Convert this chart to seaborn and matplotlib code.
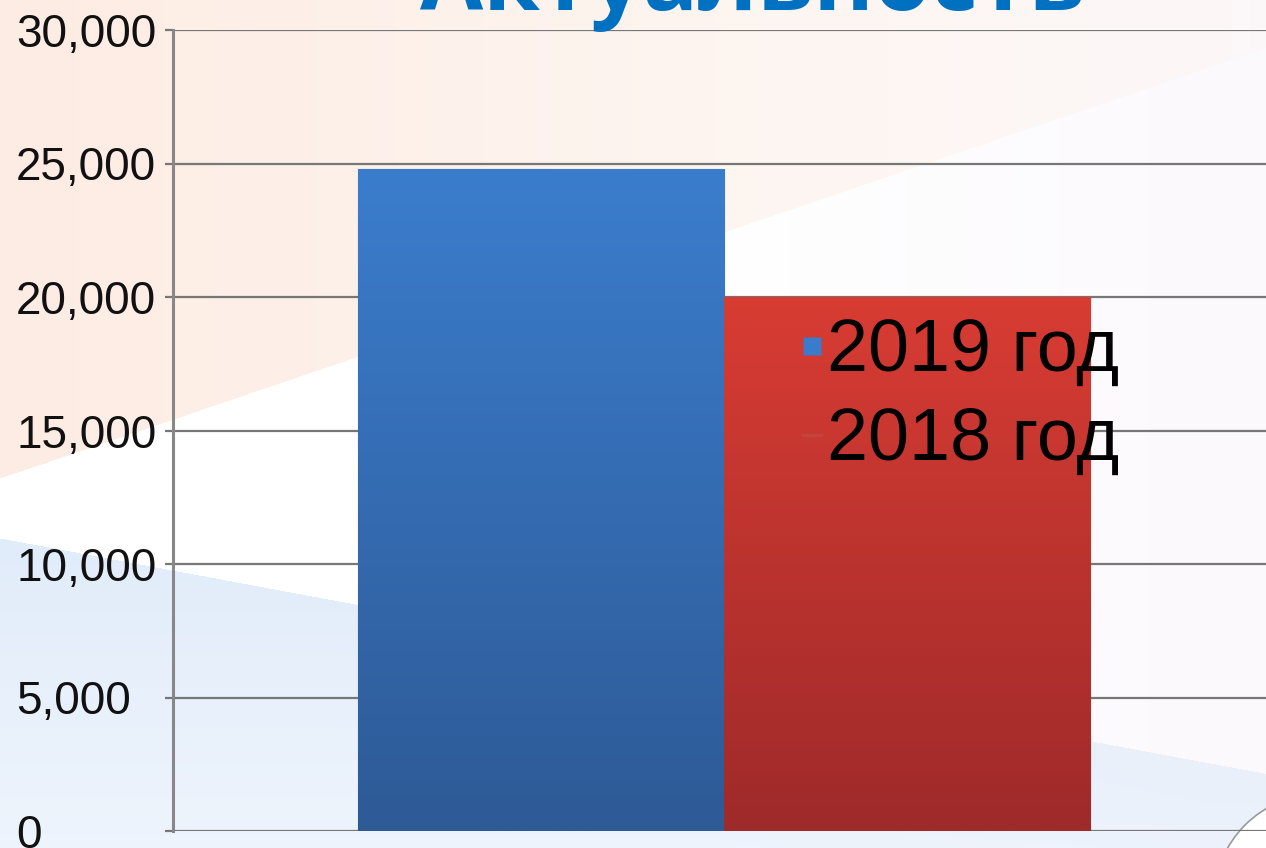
import numpy as np
import pandas as pd
import matplotlib
matplotlib.use("Agg")
import matplotlib.pyplot as plt
import seaborn as sns
from matplotlib.lines import Line2D
from matplotlib.patches import Circle

# chart data
years = ['2019 год', '2018 год']
values = [24800, 20000]
y_ticks = [0, 5000, 10000, 15000, 20000, 25000, 30000]
title = 'Актуальность'

bar_colors = {'2019 год': '#3A78C8', '2018 год': '#CC3A33'}
grad_top = {'2019 год': (59, 125, 205), '2018 год': (216, 60, 51)}
grad_bottom = {'2019 год': (46, 90, 150), '2018 год': (158, 42, 42)}

W, H = 1266, 848
fig = plt.figure(figsize=(W / 100, H / 100), dpi=100)

# slide background: peach band top-left, white band, pale blue band bottom
bg = fig.add_axes([0, 0, 1, 1], zorder=-10)
yy, xx = np.mgrid[0:H, 0:W].astype(float)
img = np.ones((H, W, 3))
peach = np.array([253, 236, 227]) / 255
blue = np.array([225, 236, 250]) / 255
lav = np.array([251, 248, 252]) / 255
t_l = np.clip((xx - 700) / 500, 0, 1)[..., None] * 0.8
img = img * (1 - t_l) + lav * t_l
top_mask = yy < (478 - 0.34 * xx)
fade = np.clip(1 - xx / 1500, 0.12, 1)[..., None]
img = np.where(top_mask[..., None], img * (1 - fade) + peach * fade, img)
bot_mask = yy > (538 + 0.186 * xx)
bfade = np.clip(1 - (yy - 540) / 700, 0.55, 1)[..., None]
img = np.where(bot_mask[..., None], img * (1 - bfade) + blue * bfade, img)
bg.imshow(img, extent=[0, W, H, 0], aspect='auto')
bg.add_patch(Circle((1320, 900), 106, facecolor='white', edgecolor='#9a9a9a', lw=1.2))
bg.set_xlim(0, W)
bg.set_ylim(H, 0)
bg.axis('off')

df = pd.DataFrame({'group': [''] * len(years), 'Год': years, 'value': values})

ax = fig.add_axes([173 / W, (H - 831) / H, 1 - 173 / W, 801 / H])
ax.patch.set_alpha(0)
sns.barplot(data=df, x='group', y='value', hue='Год', hue_order=years,
            palette=bar_colors, width=0.67, saturation=1, legend=False, ax=ax)

# vertical gradient fill on each bar
for bar, yr in zip(ax.patches, years):
    x0, w, h = bar.get_x(), bar.get_width(), bar.get_height()
    top = np.array(grad_top[yr]) / 255
    bot = np.array(grad_bottom[yr]) / 255
    t = np.linspace(0, 1, 256)[:, None, None]
    g = top * (1 - t) + bot * t
    im = ax.imshow(g, extent=[x0, x0 + w, 0, h], aspect='auto', origin='upper', zorder=2)
    im.set_clip_path(bar)
    bar.set_edgecolor('#7a2a2a' if yr == '2018 год' else '#2e5a96')
    bar.set_linewidth(0.8)

ax.set_xlim(-0.504, 0.496)
ax.set_ylim(0, 30000)
ax.set_yticks(y_ticks)
ax.set_yticklabels([f'{v:,}' for v in y_ticks])
ax.set_xticks([])
ax.set_xlabel('')
ax.set_ylabel('')
ax.grid(axis='y', color='#777777', lw=1.6)
ax.set_axisbelow(True)
for s in ['top', 'right', 'bottom']:
    ax.spines[s].set_visible(False)
ax.spines['left'].set_color('#888888')
ax.spines['left'].set_linewidth(2.2)
ax.tick_params(axis='y', length=6, width=1.6, color='#777777', pad=107,
               labelsize=33, labelcolor='#111111')
for lab in ax.get_yticklabels():
    lab.set_horizontalalignment('left')
    lab.set_family('Liberation Sans')

handles = [
    Line2D([], [], ls='none', marker='s', markersize=13, markerfacecolor='#3A7BCB',
           markeredgecolor='none', label=years[0]),
    Line2D([], [], ls='-', lw=2.5, color='#c4443d', label=years[1]),
]
ax.legend(handles=handles, loc='upper left', bbox_to_anchor=(803 / W, 1 - 318 / H),
          bbox_transform=fig.transFigure, frameon=False, borderpad=0, borderaxespad=0,
          handlelength=0.25, handletextpad=0.08, labelspacing=0.26,
          prop={'family': 'Liberation Sans', 'size': 53})

fig.text(752 / W, 1 - 10 / H, title, ha='center', va='baseline', fontsize=66,
         fontweight='bold', family='Open Sans', color='#0070C0')

fig.savefig('out.png', dpi=100)
